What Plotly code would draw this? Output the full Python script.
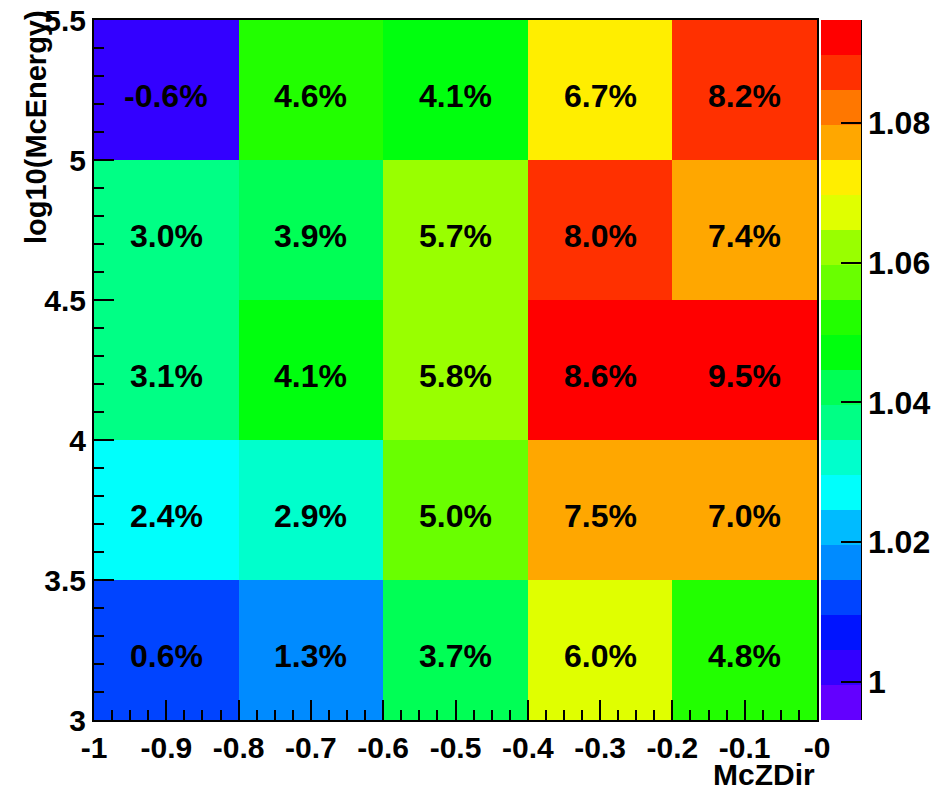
import colorsys
import plotly.graph_objects as go

# Bin edges of the 2D histogram
X_EDGES = [-1.0, -0.8, -0.6, -0.4, -0.2, 0.0]
Y_EDGES = [3.0, 3.5, 4.0, 4.5, 5.0, 5.5]

# Relative change in percent per cell (rows from low to high log10 energy)
PCT_ROW_3_25 = [0.6, 1.3, 3.7, 6.0, 4.8]
PCT_ROW_3_75 = [2.4, 2.9, 5.0, 7.5, 7.0]
PCT_ROW_4_25 = [3.1, 4.1, 5.8, 8.6, 9.5]
PCT_ROW_4_75 = [3.0, 3.9, 5.7, 8.0, 7.4]
PCT_ROW_5_25 = [-0.6, 4.6, 4.1, 6.7, 8.2]
PCT_ROWS = [PCT_ROW_3_25, PCT_ROW_3_75, PCT_ROW_4_25, PCT_ROW_4_75, PCT_ROW_5_25]

# Axis tick labels
X_TICK_VALUES = [-1.0, -0.9, -0.8, -0.7, -0.6, -0.5, -0.4, -0.3, -0.2, -0.1, 0.0]
X_TICK_LABELS = ["-1", "-0.9", "-0.8", "-0.7", "-0.6", "-0.5", "-0.4", "-0.3", "-0.2", "-0.1", "-0"]
Y_TICK_VALUES = [3.0, 3.5, 4.0, 4.5, 5.0, 5.5]
Y_TICK_LABELS = ["3", "3.5", "4", "4.5", "5", "5.5"]

# Palette axis range (ratio units)
CB_MIN = 0.99453
CB_MAX = 1.09475
N_LEVELS = 20

# Contour-level edges (percent) used to pick each cell's palette colour
LEVEL_EDGES = [-1.13, -0.62, -0.12, 0.39, 0.90, 1.41, 1.92, 2.43, 2.94, 3.45,
               3.96, 4.46, 4.97, 5.47, 5.98, 6.48, 6.99, 7.60, 7.95, 8.45, 9.60]

FONT = "Liberation Sans"

# pixel geometry of the frame and palette
PLOT_L, PLOT_R, PLOT_T, PLOT_B = 94, 817, 20, 720
PAL_L, PAL_R = 821, 861
PW = PLOT_R - PLOT_L
PH = PLOT_B - PLOT_T


def pretty_palette_color(level, nlev=N_LEVELS, ncol=50):
    idx = int((level + 0.99) * ncol / nlev)
    hue = 280.0 - (idx + 1) * 280.0 / ncol
    r, g, b = colorsys.hls_to_rgb(max(hue, 0.0) / 360.0, 0.5, 1.0)
    return "rgb(%d,%d,%d)" % (round(r * 255), round(g * 255), round(b * 255))


LEVEL_COLORS = [pretty_palette_color(i) for i in range(N_LEVELS)]

# stepped colour scale for the palette axis (uniform levels)
cb_scale = []
for i, c in enumerate(LEVEL_COLORS):
    cb_scale.append([i / N_LEVELS, c])
    cb_scale.append([(i + 1) / N_LEVELS, c])

# stepped colour scale for the cells, built from the level edges
lo, hi = LEVEL_EDGES[0], LEVEL_EDGES[-1]
cell_scale = []
for i, c in enumerate(LEVEL_COLORS):
    cell_scale.append([(LEVEL_EDGES[i] - lo) / (hi - lo), c])
    cell_scale.append([(LEVEL_EDGES[i + 1] - lo) / (hi - lo), c])

ratio = [[1.0 + p / 100.0 for p in row] for row in PCT_ROWS]

fig = go.Figure()
fig.add_trace(go.Heatmap(
    x=X_EDGES, y=Y_EDGES, z=ratio,
    zmin=1.0 + lo / 100.0, zmax=1.0 + hi / 100.0,
    colorscale=cell_scale, showscale=False, hoverinfo="skip",
))

# palette axis
fig.add_trace(go.Scatter(
    x=[None], y=[None], mode="markers", showlegend=False, hoverinfo="skip",
    marker=dict(
        color=[CB_MIN], cmin=CB_MIN, cmax=CB_MAX, colorscale=cb_scale,
        showscale=True,
        colorbar=dict(
            x=(PAL_L - PLOT_L) / PW, xanchor="left", xpad=0, ypad=0,
            y=0, yanchor="bottom", len=1, lenmode="fraction",
            thickness=PAL_R - PAL_L, thicknessmode="pixels", outlinewidth=0,
            tickmode="linear", tick0=1.0, dtick=0.02,
            ticks="inside", ticklen=20, tickwidth=2, tickcolor="black",
            tickfont=dict(family=FONT, size=32, color="black", weight="bold"),
        ),
    ),
))

# cell labels
xc = [(X_EDGES[i] + X_EDGES[i + 1]) / 2 for i in range(len(X_EDGES) - 1)]
yc = [(Y_EDGES[j] + Y_EDGES[j + 1]) / 2 for j in range(len(Y_EDGES) - 1)]
for j, row in enumerate(PCT_ROWS):
    for i, p in enumerate(row):
        fig.add_annotation(
            x=xc[i], y=yc[j], text="%.1f%%" % p, showarrow=False,
            yshift=-6,
            font=dict(family=FONT, size=32, color="black", weight="bold"),
        )

# axis titles
fig.add_annotation(
    xref="paper", yref="paper", x=1.0, y=(PLOT_B - 774) / PH,
    xanchor="right", yanchor="middle", text="McZDir", showarrow=False,
    font=dict(family=FONT, size=30, color="black", weight="bold"),
)
fig.add_annotation(
    xref="paper", yref="paper", x=(36 - PLOT_L) / PW, y=(PLOT_B - 8) / PH,
    xanchor="center", yanchor="top", text="log10(McEnergy)", textangle=-90,
    showarrow=False,
    font=dict(family=FONT, size=29, color="black", weight="bold"),
)

# right edge of the palette axis
fig.add_shape(type="line", xref="paper", yref="paper",
              x0=(PAL_R - PLOT_L) / PW, x1=(PAL_R - PLOT_L) / PW, y0=0, y1=1,
              line=dict(color="black", width=2))

tick_font = dict(family=FONT, size=30, color="black", weight="bold")
fig.update_layout(
    width=950, height=790,
    margin=dict(l=PLOT_L, r=950 - PLOT_R, t=PLOT_T, b=790 - PLOT_B, autoexpand=False),
    paper_bgcolor="white", plot_bgcolor="white",
    xaxis=dict(
        range=[-1, 0], tickmode="array", tickvals=X_TICK_VALUES, ticktext=X_TICK_LABELS,
        ticks="inside", ticklen=20, tickwidth=2, tickcolor="black",
        minor=dict(dtick=0.025, tick0=-1, ticks="inside", ticklen=10,
                   tickwidth=2, tickcolor="black"),
        showline=True, linewidth=2, linecolor="black", mirror=True,
        showgrid=False, zeroline=False, tickfont=tick_font,
    ),
    yaxis=dict(
        range=[3, 5.5], tickmode="array", tickvals=Y_TICK_VALUES, ticktext=Y_TICK_LABELS,
        ticks="inside", ticklen=20, tickwidth=2, tickcolor="black",
        minor=dict(dtick=0.1, tick0=3, ticks="inside", ticklen=10,
                   tickwidth=2, tickcolor="black"),
        showline=True, linewidth=2, linecolor="black", mirror=True,
        showgrid=False, zeroline=False, tickfont=tick_font,
    ),
)

fig.write_html("out.html")
